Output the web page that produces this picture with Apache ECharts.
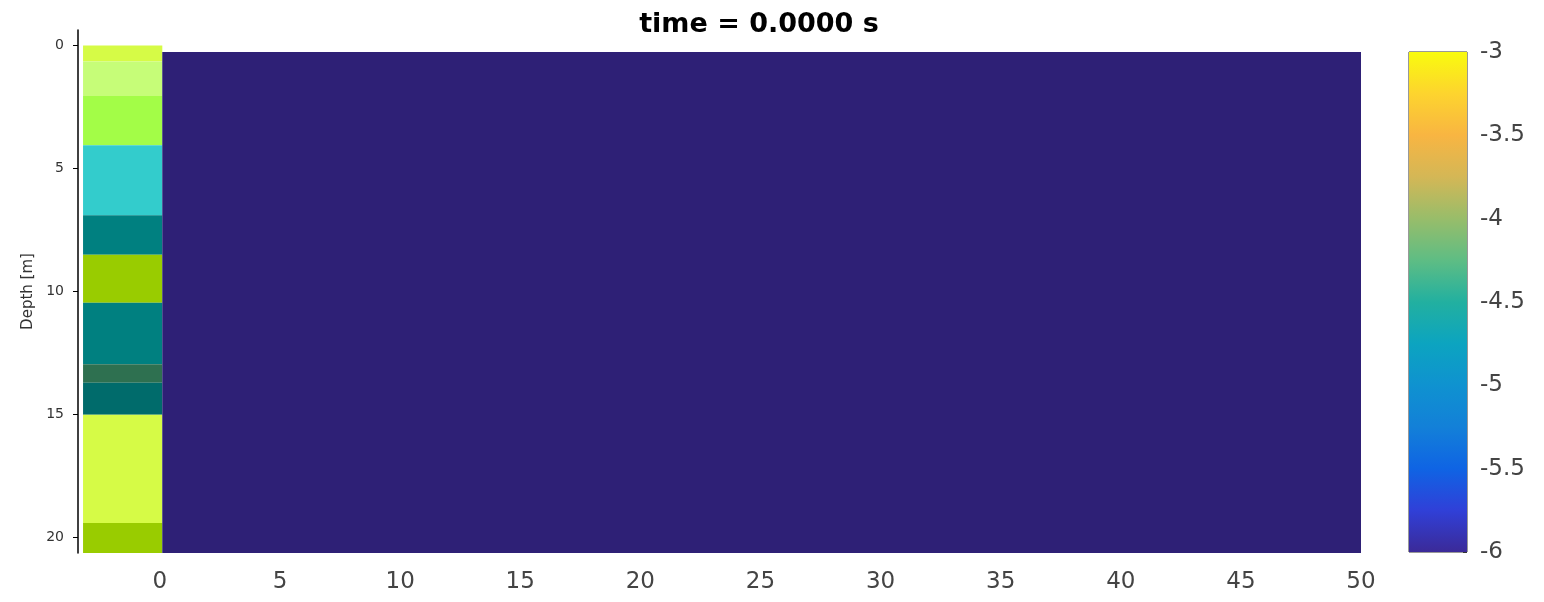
<!DOCTYPE html>
<html>
<head>
<meta charset="utf-8">
<script src="https://cdn.jsdelivr.net/npm/echarts@6/dist/echarts.min.js"></script>
<style>
html,body{margin:0;padding:0;background:#fff;}
#chart{width:1544px;height:602px;}
</style>
</head>
<body>
<div id="chart"></div>
<script>
// ---- data ----
const TITLE = 'time = 0.0000 s';
const X_TICKS = [0, 5, 10, 15, 20, 25, 30, 35, 40, 45, 50];
const Y_TICKS = [0, 5, 10, 15, 20];
const CB_TICKS = [-6, -5.5, -5, -4.5, -4, -3.5, -3];
// soil layers: top depth, bottom depth (m)
const LAYER_TOP    = [0, 0.65, 2.05, 4.05, 6.9, 8.5, 10.45, 12.95, 13.7, 15.0, 19.4];
const LAYER_BOTTOM = [0.65, 2.05, 4.05, 6.9, 8.5, 10.45, 12.95, 13.7, 15.0, 19.4, 20.62];
// field cells: x0, x1, depth0, depth1, value
const FIELD_X0 = [0.1];
const FIELD_X1 = [50];
const FIELD_Y0 = [0.26];
const FIELD_Y1 = [20.62];
const FIELD_V  = [-6];
const CB_MIN = -6, CB_MAX = -3;

// ---- styles ----
const LAYER_COLORS = ['#d6fb46','#c6fd78','#a3fd47','#33cccc','#008080','#99cc00',
                      '#008080','#2e7050','#006b6b','#d6fb46','#99cc00'];
const PARULA = ['#3b2a98','#3040d8','#0f64e4','#1380d8','#0f92d0','#0ca4c0','#22b0a0',
                '#5ebd84','#98bd6a','#d4b756','#f8b542','#fdd42e','#f9fb0e'];
const STRIP_X = [-3.2, 0.1];
const FONT = 'DejaVu Sans';

const layerData = LAYER_TOP.map((t, i) => [t, LAYER_BOTTOM[i], i]);
const fieldData = FIELD_V.map((v, i) => [FIELD_X0[i], FIELD_X1[i], FIELD_Y0[i], FIELD_Y1[i], v]);

const chart = echarts.init(document.getElementById('chart'), null, {renderer: 'canvas'});

const option = {
  animation: false,
  backgroundColor: '#ffffff',
  title: {
    text: TITLE,
    left: 759,
    top: 11.5,
    padding: 0,
    textAlign: 'center',
    textStyle: {fontFamily: FONT, fontWeight: 'bold', fontSize: 27, color: '#000'}
  },
  grid: [
    {left: 78, right: 183, top: 30, bottom: 49, containLabel: false},
    {left: 1409, width: 58, top: 52, height: 500, show: true, borderColor: '#333', borderWidth: 1, backgroundColor: 'transparent'}
  ],
  xAxis: [
    {
      gridIndex: 0, type: 'value', min: -3.41, max: 50,
      axisLine: {show: false, onZero: false}, axisTick: {show: false}, splitLine: {show: false},
      axisLabel: {customValues: X_TICKS, fontFamily: FONT, fontSize: 23, color: '#444', margin: 18}
    },
    {gridIndex: 1, type: 'value', min: 0, max: 1, show: false, axisLine: {onZero: false}}
  ],
  yAxis: [
    {
      gridIndex: 0, type: 'value', inverse: true, min: -0.63, max: 20.62,
      name: 'Depth [m]', nameLocation: 'middle', nameGap: 42,
      nameTextStyle: {fontFamily: FONT, fontSize: 15, color: '#333'},
      axisLine: {show: true, onZero: false, lineStyle: {color: '#000', width: 1.5}},
      axisTick: {show: true, customValues: Y_TICKS, length: 5, lineStyle: {color: '#000'}},
      splitLine: {show: false},
      axisLabel: {customValues: Y_TICKS, fontFamily: FONT, fontSize: 14, color: '#333', margin: 14}
    },
    {
      gridIndex: 1, type: 'value', position: 'right', min: CB_MIN, max: CB_MAX, interval: 0.5,
      axisLine: {show: false, onZero: false},
      axisTick: {show: true, inside: true, length: 4, lineStyle: {color: '#333'}},
      splitLine: {show: false},
      axisLabel: {customValues: CB_TICKS, fontFamily: FONT, fontSize: 23, color: '#444', margin: 13}
    }
  ],
  visualMap: {
    show: false, type: 'continuous', min: CB_MIN, max: CB_MAX, dimension: 4,
    seriesIndex: 1, inRange: {color: PARULA}
  },
  series: [
    {
      type: 'custom', name: 'layers', xAxisIndex: 0, yAxisIndex: 0,
      data: layerData,
      renderItem: function (params, api) {
        const p0 = api.coord([STRIP_X[0], api.value(0)]);
        const p1 = api.coord([STRIP_X[1], api.value(1)]);
        return {
          type: 'rect',
          shape: {x: p0[0], y: p0[1], width: p1[0] - p0[0], height: p1[1] - p0[1]},
          style: {fill: LAYER_COLORS[api.value(2)]}
        };
      }
    },
    {
      type: 'custom', name: 'field', xAxisIndex: 0, yAxisIndex: 0,
      data: fieldData,
      renderItem: function (params, api) {
        const p0 = api.coord([api.value(0), api.value(2)]);
        const p1 = api.coord([api.value(1), api.value(3)]);
        const shape = {x: p0[0], y: p0[1], width: p1[0] - p0[0], height: p1[1] - p0[1]};
        return {
          type: 'group',
          children: [
            {type: 'rect', shape: shape, style: {fill: api.visual('color')}},
            {type: 'rect', shape: shape, style: {fill: 'rgba(0,0,0,0.22)'}}
          ]
        };
      }
    },
    {
      type: 'custom', name: 'colorbar', xAxisIndex: 1, yAxisIndex: 1,
      data: [[0, 1, CB_MIN, CB_MAX]],
      renderItem: function (params, api) {
        const p0 = api.coord([api.value(0), api.value(3)]);
        const p1 = api.coord([api.value(1), api.value(2)]);
        const stops = PARULA.map((c, i) => ({offset: i / (PARULA.length - 1), color: c}));
        return {
          type: 'rect',
          shape: {x: p0[0], y: p0[1], width: p1[0] - p0[0], height: p1[1] - p0[1]},
          style: {fill: new echarts.graphic.LinearGradient(0, 1, 0, 0, stops)}
        };
      }
    }
  ]
};
chart.setOption(option);
</script>
</body>
</html>
